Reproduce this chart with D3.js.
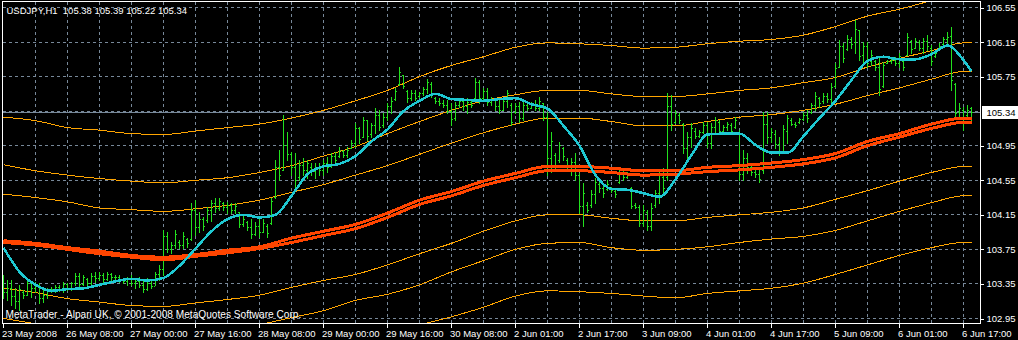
<!DOCTYPE html>
<html>
<head>
<meta charset="utf-8">
<script src="https://cdn.jsdelivr.net/npm/d3@7"></script>
<style>
  body { margin: 0; background: #000; }
  svg { display: block; }
  text { font-family: "Liberation Sans", Arial, sans-serif; font-size: 9.5px; fill: #fff; }
</style>
</head>
<body>
<svg id="chart" width="1018" height="340"></svg>
<script>
// USDJPY H1, 23 May - 6 Jun 2008
let symbol = 'USDJPY', period = 'H1';

let timeTickBars = [0, 16, 32, 48, 64, 80, 96, 112, 128, 144, 160, 176, 192, 208, 224, 240];
let timeLabels = ['23 May 2008', '26 May 08:00', '27 May 00:00', '27 May 16:00', '28 May 08:00',
  '29 May 00:00', '29 May 16:00', '30 May 08:00', '2 Jun 01:00', '2 Jun 17:00', '3 Jun 09:00',
  '4 Jun 01:00', '4 Jun 17:00', '5 Jun 09:00', '6 Jun 01:00', '6 Jun 17:00'];

let priceTicks = [106.55, 106.15, 105.75, 104.95, 104.55, 104.15, 103.75, 103.35, 102.95];
let gridPrices = [106.55, 106.15, 105.75, 105.35, 104.95, 104.55, 104.15, 103.75, 103.35, 102.95];

let barHigh = [
  103.45,103.39,103.39,103.30,103.33,103.27,103.41,103.36,103.37,103.36,
  103.27,103.30,103.31,103.33,103.33,103.37,103.36,103.37,103.47,103.47,
  103.45,103.41,103.47,103.48,103.48,103.47,103.48,103.47,103.45,103.45,
  103.41,103.43,103.45,103.41,103.43,103.39,103.41,103.39,103.48,103.56,
  103.97,103.94,103.83,103.97,103.85,103.95,103.88,104.28,104.32,104.18,
  104.12,104.24,104.32,104.34,104.34,104.29,104.29,104.28,104.28,104.18,
  104.15,104.07,104.10,104.06,104.12,104.10,104.04,104.34,104.78,104.89,
  105.30,105.10,104.87,104.86,104.78,104.80,104.78,104.74,104.74,104.74,
  104.78,104.81,104.86,104.87,104.93,104.89,104.93,105.01,105.21,105.16,
  105.28,105.24,105.21,105.38,105.36,105.32,105.44,105.51,105.61,105.86,
  105.76,105.59,105.59,105.59,105.57,105.62,105.72,105.68,105.51,105.50,
  105.47,105.47,105.44,105.45,105.50,105.47,105.50,105.47,105.73,105.71,
  105.61,105.61,105.51,105.50,105.47,105.50,105.59,105.44,105.44,105.45,
  105.47,105.44,105.45,105.47,105.51,105.44,105.33,105.10,104.86,104.99,
  104.93,104.80,104.80,104.86,104.63,104.51,104.29,104.43,104.57,104.55,
  104.51,104.55,104.47,104.43,104.70,104.66,104.64,104.47,104.28,104.26,
  104.26,104.20,104.28,104.43,104.66,104.69,105.55,105.53,105.36,105.32,
  105.21,105.10,105.21,105.15,105.13,105.22,105.22,105.21,105.28,105.24,
  105.18,105.22,105.21,105.28,105.13,104.89,104.86,104.74,104.66,104.70,
  105.33,105.33,105.15,105.13,105.05,105.18,105.30,105.27,105.22,105.27,
  105.33,105.36,105.44,105.57,105.51,105.55,105.55,105.67,105.90,106.17,
  106.13,106.23,106.20,106.40,106.28,106.15,106.15,106.05,105.94,105.96,
  105.91,105.94,105.96,105.97,106.02,105.94,106.25,106.17,106.19,106.17,
  106.19,106.23,106.11,106.05,106.13,106.20,106.26,106.32,105.67,105.44,
  105.39,105.42,105.39];

let barLow = [
  103.18,103.16,103.10,103.07,103.04,103.18,103.22,103.19,103.25,103.12,
  103.14,103.18,103.25,103.25,103.26,103.25,103.27,103.27,103.33,103.30,
  103.33,103.31,103.33,103.37,103.39,103.37,103.39,103.37,103.39,103.37,
  103.36,103.33,103.33,103.30,103.31,103.25,103.27,103.30,103.33,103.39,
  103.45,103.71,103.70,103.76,103.76,103.76,103.77,103.85,103.91,103.95,
  103.97,104.06,104.07,104.18,104.20,104.20,104.17,104.17,104.17,104.00,
  104.01,103.97,103.88,103.91,103.89,103.94,103.89,104.04,104.34,104.55,
  104.66,104.78,104.61,104.43,104.55,104.61,104.57,104.61,104.57,104.61,
  104.61,104.64,104.70,104.74,104.81,104.81,104.81,104.92,104.93,104.98,
  105.05,105.01,105.05,105.09,105.13,105.16,105.24,105.32,105.47,105.65,
  105.61,105.45,105.47,105.47,105.51,105.53,105.55,105.51,105.44,105.42,
  105.39,105.32,105.18,105.24,105.39,105.36,105.32,105.39,105.50,105.44,
  105.47,105.42,105.42,105.36,105.32,105.36,105.39,105.18,105.32,105.22,
  105.24,105.36,105.38,105.36,105.36,105.24,104.61,104.64,104.69,104.76,
  104.78,104.66,104.61,104.55,104.17,104.01,104.18,104.24,104.28,104.41,
  104.35,104.43,104.41,104.35,104.51,104.55,104.57,104.22,104.22,104.01,
  104.01,103.97,103.97,104.24,104.28,104.37,104.55,105.13,105.21,105.21,
  104.86,104.80,104.93,105.03,105.05,105.09,104.93,104.92,105.10,105.09,
  105.10,105.13,105.09,105.15,104.55,104.55,104.63,104.61,104.58,104.52,
  104.63,104.98,104.99,104.92,104.84,104.86,104.98,105.18,105.16,105.21,
  105.24,105.22,105.32,105.36,105.39,105.44,105.45,105.44,105.62,105.86,
  105.91,106.05,106.08,106.02,105.94,105.90,105.86,105.88,105.82,105.53,
  105.62,105.90,105.90,105.88,105.86,105.82,105.99,106.02,106.08,106.05,
  106.02,106.05,105.88,105.97,106.05,106.11,106.13,105.59,105.28,105.28,
  105.13,105.28,105.22];

let barOpen = [
  103.40,103.25,103.30,103.20,103.15,103.25,103.22,103.35,103.30,103.33,
  103.18,103.22,103.26,103.29,103.31,103.28,103.34,103.30,103.35,103.44,
  103.34,103.40,103.36,103.44,103.41,103.45,103.40,103.46,103.42,103.43,
  103.40,103.38,103.41,103.35,103.38,103.33,103.28,103.36,103.32,103.46,
  103.52,103.90,103.75,103.80,103.83,103.79,103.86,103.86,104.20,104.00,
  104.10,104.08,104.20,104.28,104.22,104.28,104.24,104.26,104.20,104.18,
  104.04,104.06,104.00,103.92,104.02,103.95,104.02,104.05,104.35,104.70,
  104.66,104.95,104.85,104.70,104.58,104.72,104.66,104.70,104.65,104.70,
  104.66,104.75,104.72,104.82,104.82,104.88,104.84,104.92,104.98,105.15,
  105.05,105.24,105.08,105.18,105.30,105.18,105.28,105.40,105.48,105.66,
  105.76,105.58,105.50,105.55,105.52,105.55,105.60,105.66,105.50,105.46,
  105.44,105.42,105.35,105.26,105.42,105.46,105.40,105.45,105.50,105.68,
  105.50,105.58,105.45,105.48,105.40,105.36,105.46,105.42,105.34,105.40,
  105.26,105.42,105.38,105.42,105.38,105.44,105.28,104.80,104.84,104.78,
  104.92,104.78,104.70,104.76,104.60,104.25,104.26,104.26,104.38,104.50,
  104.45,104.44,104.46,104.42,104.52,104.64,104.58,104.45,104.26,104.24,
  104.05,104.18,104.02,104.26,104.40,104.58,104.58,105.40,105.22,105.30,
  105.20,104.92,105.05,105.12,105.06,105.10,105.18,104.98,105.16,105.22,
  105.12,105.16,105.18,105.16,105.10,104.62,104.80,104.70,104.64,104.62,
  104.66,105.20,105.05,105.08,104.96,104.88,105.12,105.24,105.20,105.22,
  105.25,105.30,105.34,105.42,105.50,105.46,105.52,105.48,105.64,105.86,
  106.10,106.06,106.18,106.14,106.28,106.00,106.10,105.92,105.92,105.86,
  105.64,105.90,105.92,105.94,105.90,105.92,106.00,106.16,106.08,106.14,
  106.08,106.16,106.08,105.98,106.06,106.12,106.18,106.22,105.66,105.34,
  105.36,105.30,105.38];

let barClose = [
  103.25,103.30,103.20,103.15,103.28,103.22,103.35,103.30,103.33,103.18,
  103.22,103.26,103.29,103.31,103.28,103.34,103.30,103.35,103.44,103.34,
  103.42,103.36,103.44,103.41,103.45,103.40,103.46,103.42,103.43,103.40,
  103.38,103.41,103.35,103.38,103.33,103.28,103.36,103.32,103.46,103.52,
  103.90,103.75,103.80,103.92,103.79,103.90,103.82,104.20,104.00,104.10,
  104.02,104.20,104.28,104.22,104.30,104.24,104.26,104.20,104.25,104.04,
  104.10,104.00,103.92,104.02,103.95,104.05,103.93,104.30,104.70,104.60,
  104.95,104.85,104.70,104.55,104.72,104.66,104.74,104.65,104.70,104.66,
  104.75,104.70,104.82,104.78,104.90,104.84,104.90,104.98,105.15,105.02,
  105.24,105.06,105.18,105.30,105.16,105.28,105.40,105.46,105.58,105.80,
  105.64,105.50,105.55,105.50,105.55,105.60,105.68,105.53,105.46,105.44,
  105.42,105.35,105.25,105.42,105.46,105.40,105.45,105.42,105.68,105.50,
  105.58,105.45,105.48,105.40,105.36,105.46,105.55,105.22,105.40,105.26,
  105.42,105.38,105.42,105.38,105.46,105.28,104.80,105.00,104.72,104.95,
  104.82,104.70,104.76,104.60,104.25,104.40,104.20,104.38,104.52,104.45,
  104.40,104.50,104.43,104.38,104.66,104.58,104.62,104.25,104.24,104.05,
  104.20,104.02,104.22,104.40,104.60,104.45,105.40,105.20,105.32,105.24,
  104.92,105.05,105.15,105.06,105.10,105.18,104.98,105.16,105.24,105.12,
  105.16,105.20,105.12,105.24,104.62,104.80,104.70,104.64,104.62,104.56,
  105.20,105.05,105.10,104.96,104.88,105.14,105.26,105.20,105.18,105.25,
  105.30,105.27,105.42,105.52,105.44,105.52,105.48,105.62,105.84,106.10,
  105.96,106.18,106.12,106.30,105.98,106.10,105.90,106.00,105.86,105.60,
  105.88,105.92,105.94,105.90,105.98,105.86,106.20,106.06,106.16,106.08,
  106.16,106.10,105.92,106.02,106.10,106.18,106.20,105.70,105.32,105.38,
  105.28,105.36,105.34];

// fast moving average (cyan), read every 4 bars
let fastKnots = [0,4,8,12,16,20,24,28,32,36,40,44,48,52,56,60,64,68,72,76,80,84,88,92,96,100,
  104,108,112,116,120,124,128,132,136,140,144,148,152,156,160,164,168,172,176,180,184,188,192,
  196,200,204,208,212,216,220,224,228,232,236,240,242];
let fastMA = [103.77,103.49,103.34,103.27,103.29,103.30,103.34,103.38,103.41,103.39,103.42,103.56,
  103.76,103.96,104.10,104.15,104.12,104.15,104.37,104.62,104.71,104.74,104.83,105.00,105.14,105.35,
  105.47,105.55,105.49,105.48,105.47,105.49,105.50,105.43,105.38,105.18,104.95,104.61,104.45,104.44,
  104.40,104.36,104.56,104.84,105.08,105.09,105.09,104.96,104.87,104.87,105.06,105.27,105.47,105.71,
  105.93,105.98,105.95,105.95,106.01,106.11,105.94,105.81];

// slow averages (red) and envelopes (orange), read every 8 bars
let slowKnots = [0,8,16,24,32,40,48,56,64,72,80,88,96,104,112,120,128,136,144,152,160,168,176,184,
  192,200,208,216,224,232,240,242];
let slowUpper = [103.85,103.82,103.77,103.73,103.68,103.66,103.69,103.74,103.78,103.88,103.96,104.04,
  104.17,104.32,104.42,104.54,104.63,104.71,104.71,104.69,104.66,104.66,104.70,104.72,104.75,104.79,
  104.86,105.00,105.09,105.20,105.27,105.27];
let slowLower = [103.83,103.80,103.75,103.70,103.66,103.63,103.67,103.71,103.76,103.83,103.91,103.99,
  104.12,104.27,104.37,104.49,104.58,104.66,104.66,104.64,104.61,104.62,104.65,104.67,104.70,104.74,
  104.81,104.95,105.05,105.15,105.22,105.22];
let envA = [105.28,105.24,105.16,105.13,105.09,105.08,105.12,105.16,105.20,105.27,105.36,105.47,105.59,
  105.75,105.88,105.98,106.09,106.14,106.13,106.11,106.08,106.09,106.13,106.16,106.18,106.23,106.33,
  106.45,106.53,106.63,106.72,106.75];
let envB = [104.73,104.66,104.61,104.57,104.54,104.52,104.55,104.58,104.64,104.72,104.83,104.94,105.09,
  105.23,105.36,105.47,105.54,105.59,105.59,105.55,105.52,105.52,105.55,105.59,105.62,105.68,105.74,
  105.86,105.96,106.05,106.14,106.14];
let envC = [104.39,104.35,104.30,104.23,104.21,104.19,104.22,104.26,104.32,104.41,104.50,104.61,104.72,
  104.85,104.98,105.10,105.20,105.27,105.27,105.23,105.18,105.18,105.23,105.28,105.31,105.36,105.43,
  105.53,105.62,105.72,105.81,105.81];
let envD = [103.30,103.25,103.18,103.14,103.10,103.09,103.13,103.17,103.22,103.31,103.39,103.46,103.57,
  103.70,103.82,103.96,104.08,104.15,104.15,104.11,104.08,104.08,104.12,104.15,104.18,104.23,104.33,
  104.43,104.54,104.64,104.71,104.71];
let envE = [102.95,102.89,102.83,102.79,102.75,102.74,102.78,102.82,102.88,102.96,103.04,103.16,103.23,
  103.34,103.49,103.62,103.75,103.82,103.83,103.77,103.74,103.75,103.78,103.83,103.87,103.90,103.97,
  104.08,104.19,104.29,104.37,104.37];
let envF = [102.41,102.37,102.33,102.28,102.23,102.21,102.23,102.28,102.33,102.39,102.51,102.60,102.72,
  102.87,102.97,103.08,103.21,103.27,103.26,103.24,103.21,103.19,103.24,103.27,103.30,103.36,103.46,
  103.57,103.68,103.77,103.83,103.83];

let copyright = 'MetaTrader - Alpari UK, \u00a9 2001-2008 MetaQuotes Software Corp.';

// ---- layout
let plotLeft = 3, plotRight = 980, plotTop = 2, plotBottom = 323;
let gridColor = '#778899';

let svg = d3.select('#chart');
svg.append('rect').attr('width', 1018).attr('height', 340).attr('fill', '#000');

let x = d3.scaleLinear().domain([0, 242]).range([3.5, 971.5]);
let y = d3.scaleLinear().domain([102.95, 106.55]).range([318.5, 7.5]);
let lastBar = barClose.length - 1;

svg.append('clipPath').attr('id', 'plotClip')
  .append('rect')
  .attr('x', plotLeft).attr('y', plotTop)
  .attr('width', plotRight - plotLeft).attr('height', plotBottom - plotTop);

let grid = svg.append('g').attr('shape-rendering', 'crispEdges')
  .attr('stroke', gridColor).attr('stroke-dasharray', '3,3');

grid.selectAll('line.h')
  .data(gridPrices)
  .join('line')
  .attr('class', 'h')
  .attr('x1', plotLeft).attr('x2', plotRight)
  .attr('y1', d => Math.floor(y(d)) + 0.5)
  .attr('y2', d => Math.floor(y(d)) + 0.5);

grid.selectAll('line.v')
  .data(d3.range(8, 241, 8))
  .join('line')
  .attr('class', 'v')
  .attr('x1', d => x(d)).attr('x2', d => x(d))
  .attr('y1', plotTop).attr('y2', plotBottom);

// current price line
svg.append('line')
  .attr('shape-rendering', 'crispEdges')
  .attr('stroke', gridColor)
  .attr('x1', plotLeft).attr('x2', plotRight)
  .attr('y1', Math.floor(y(barClose[lastBar])) + 0.5)
  .attr('y2', Math.floor(y(barClose[lastBar])) + 0.5);

let plot = svg.append('g').attr('clip-path', 'url(#plotClip)');

// orange envelopes
let slowLine = function(vals) {
  return d3.line()
    .x((d, i) => x(slowKnots[i]))
    .y(d => y(d))
    .curve(d3.curveMonotoneX)(vals);
};

plot.append('g')
  .selectAll('path')
  .data([envA, envB, envC, envD, envE, envF])
  .join('path')
  .attr('d', slowLine)
  .attr('fill', 'none')
  .attr('stroke', '#ffa500')
  .attr('stroke-width', 1)
  .attr('shape-rendering', 'crispEdges');

// OHLC bars
let bars = plot.append('g')
  .attr('fill', '#22e01e')
  .attr('shape-rendering', 'crispEdges')
  .selectAll('g')
  .data(barClose.map((c, i) => i))
  .join('g');

bars.append('rect')
  .attr('x', i => x(i) - 0.5)
  .attr('y', i => Math.floor(y(barHigh[i])))
  .attr('width', 1)
  .attr('height', i => Math.floor(y(barLow[i])) - Math.floor(y(barHigh[i])) + 1);
bars.append('rect')
  .attr('x', i => x(i) - 1.5)
  .attr('y', i => Math.floor(y(barOpen[i])))
  .attr('width', 1).attr('height', 1);
bars.append('rect')
  .attr('x', i => x(i) + 0.5)
  .attr('y', i => Math.floor(y(barClose[i])))
  .attr('width', 1).attr('height', 1);

// slow averages (red)
plot.append('g')
  .selectAll('path')
  .data([slowUpper, slowLower])
  .join('path')
  .attr('d', slowLine)
  .attr('fill', 'none')
  .attr('stroke', '#ff4500')
  .attr('stroke-width', 3)
  .attr('shape-rendering', 'crispEdges');

// fast average (cyan)
plot.append('path')
  .attr('d', d3.line()
    .x((d, i) => x(fastKnots[i]))
    .y(d => y(d))
    .curve(d3.curveMonotoneX)(fastMA))
  .attr('fill', 'none')
  .attr('stroke', '#1ec8d2')
  .attr('stroke-width', 2.5)
  .attr('shape-rendering', 'crispEdges');

// frame
svg.append('path')
  .attr('d', `M${plotLeft - 0.5},${plotTop - 0.5}H${plotRight + 0.5}V${plotBottom + 0.5}H${plotLeft - 0.5}Z`)
  .attr('fill', 'none')
  .attr('stroke', '#fff')
  .attr('shape-rendering', 'crispEdges');

// price axis
let yAxis = svg.append('g')
  .attr('transform', `translate(${plotRight + 0.5},0)`)
  .call(d3.axisRight(y).tickValues(priceTicks).tickSize(3).tickPadding(3).tickFormat(d3.format('.2f')));
yAxis.select('.domain').remove();
yAxis.selectAll('line').attr('stroke', '#fff').attr('shape-rendering', 'crispEdges');
yAxis.selectAll('text').attr('fill', '#fff');
yAxis.attr('font-family', null).attr('font-size', null);

// current price label
let py = y(barClose[lastBar]);
svg.append('rect')
  .attr('x', plotRight + 2).attr('y', Math.floor(py) - 6)
  .attr('width', 1018 - plotRight - 2).attr('height', 13)
  .attr('fill', '#fff');
svg.append('text')
  .attr('x', plotRight + 6.5).attr('y', Math.floor(py) + 4)
  .style('fill', '#000')
  .text(d3.format('.2f')(barClose[lastBar]));

// time axis
let xAxis = svg.append('g')
  .attr('transform', `translate(0,${plotBottom + 0.5})`)
  .call(d3.axisBottom(x).tickValues(timeTickBars).tickSize(4).tickPadding(3).offset(0)
    .tickFormat((d, i) => timeLabels[i]));
xAxis.select('.domain').remove();
xAxis.selectAll('line').attr('stroke', '#fff').attr('shape-rendering', 'crispEdges');
xAxis.selectAll('text').attr('fill', '#fff').attr('text-anchor', 'start').attr('dx', -1.5);
xAxis.attr('font-family', null).attr('font-size', null);

// titles
let f2 = d3.format('.2f');
svg.append('text')
  .attr('x', 6.5).attr('y', 14)
  .style('white-space', 'pre')
  .text(`${symbol},${period}  ${f2(barOpen[lastBar])} ${f2(barHigh[lastBar])} ${f2(barLow[lastBar])} ${f2(barClose[lastBar])}`);

svg.append('text')
  .attr('x', 5.5).attr('y', 318)
  .style('font-size', '10.15px')
  .text(copyright);
</script>
</body>
</html>
